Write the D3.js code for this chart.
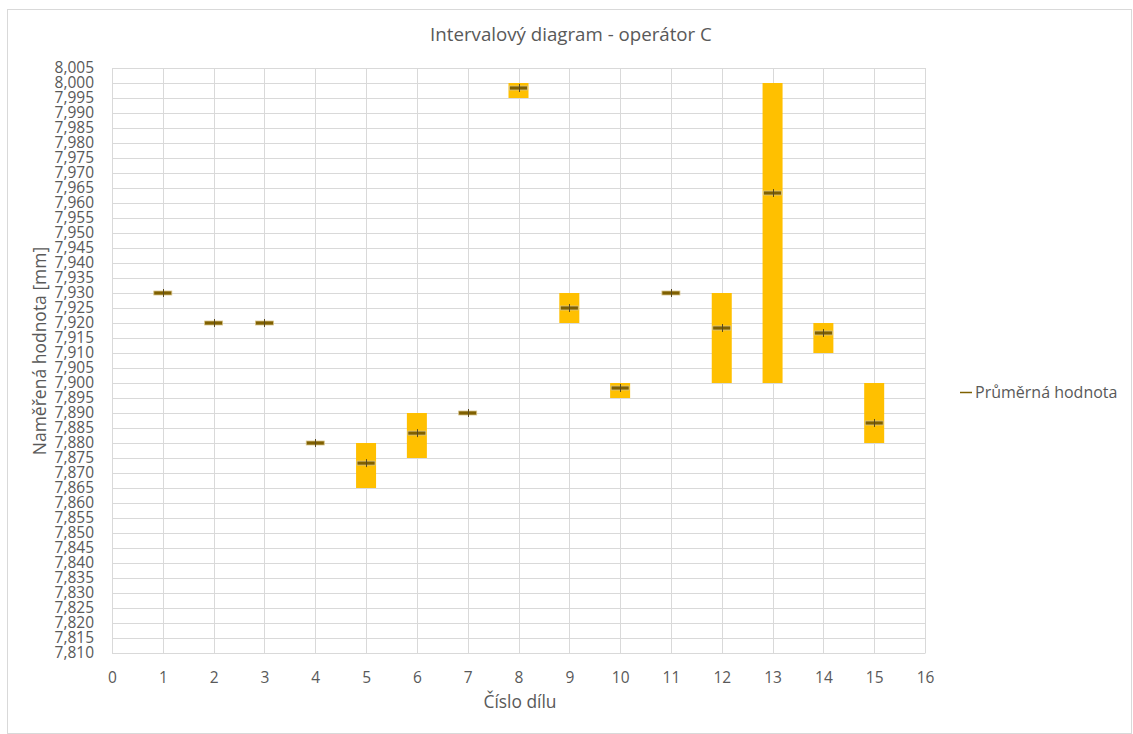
<!DOCTYPE html>
<html>
<head>
<meta charset="utf-8">
<script src="https://cdn.jsdelivr.net/npm/d3@7"></script>
<style>
  html, body { margin: 0; padding: 0; background: #fff; }
  svg { display: block; }
  text { font-family: "Open Sans", "Noto Sans", sans-serif; fill: #595959; }
</style>
</head>
<body>
<svg id="chart" width="1133" height="734"></svg>
<script>
// Measured parts (Číslo dílu) with min / max / mean of the readings
const parts  = [1, 2, 3, 4, 5, 6, 7, 8, 9, 10, 11, 12, 13, 14, 15];
const minVal = [7.930, 7.920, 7.920, 7.880, 7.865, 7.875, 7.890, 7.995, 7.920, 7.895, 7.930, 7.900, 7.900, 7.910, 7.880];
const maxVal = [7.930, 7.920, 7.920, 7.880, 7.880, 7.890, 7.890, 8.000, 7.930, 7.900, 7.930, 7.930, 8.000, 7.920, 7.900];
const meanVal = [7.930, 7.920, 7.920, 7.880, 7.8733, 7.8833, 7.890, 7.99833, 7.925, 7.89833, 7.930, 7.91833, 7.96333, 7.91667, 7.88667];

const xTicks = d3.range(0, 17);
const yTicks = d3.range(7810, 8006, 5).map(v => v / 1000);

const titleText = "Intervalový diagram - operátor C";
const xTitle = "Číslo dílu";
const yTitle = "Naměřená hodnota [mm]";
const legendText = "Průměrná hodnota";

const svg = d3.select("#chart");
const fmt = d3.formatLocale({ decimal: ",", thousands: " ", grouping: [3], currency: ["", ""] }).format(".3f");

const x = d3.scaleLinear().domain([0, 16]).range([112, 925]);
const y = d3.scaleLinear().domain([7.810, 8.005]).range([653, 68]);

// chart frame
svg.append("rect").attr("x", 7.5).attr("y", 9.5).attr("width", 1124).attr("height", 724)
  .attr("fill", "#fff").attr("stroke", "#d9d9d9");

// gridlines
const grid = svg.append("g");
grid.selectAll("line.h").data(yTicks).join("line")
  .attr("x1", x(0)).attr("x2", x(16))
  .attr("y1", d => Math.round(y(d)) + 0.5).attr("y2", d => Math.round(y(d)) + 0.5)
  .attr("stroke", "#d9d9d9").attr("stroke-width", 1);
grid.selectAll("line.v").data(xTicks).join("line")
  .attr("y1", y(8.005)).attr("y2", y(7.810))
  .attr("x1", d => Math.round(x(d)) + 0.5).attr("x2", d => Math.round(x(d)) + 0.5)
  .attr("stroke", "#d9d9d9").attr("stroke-width", 1);

// axes (labels only)
const yAxis = svg.append("g").attr("transform", `translate(${x(0)},0)`)
  .call(d3.axisLeft(y).tickValues(yTicks).tickFormat(fmt).tickSize(0).tickPadding(18));
yAxis.select(".domain").remove();
yAxis.selectAll("text").style("font-size", "15.5px").attr("fill", "#595959");

const xAxis = svg.append("g").attr("transform", `translate(0,${y(7.810)})`)
  .call(d3.axisBottom(x).tickValues(xTicks).tickFormat(d3.format("d")).tickSize(0).tickPadding(19));
xAxis.select(".domain").attr("stroke", "#d9d9d9");
xAxis.selectAll("text").style("font-size", "15.5px").attr("fill", "#595959");

// range boxes
const bw = 20;
svg.append("g").selectAll("rect").data(parts).join("rect")
  .attr("x", (d) => x(d) - bw / 2)
  .attr("width", bw)
  .attr("y", (d, i) => y(maxVal[i]))
  .attr("height", (d, i) => Math.max(0, y(minVal[i]) - y(maxVal[i])))
  .attr("fill", "#ffc000");

// mean markers
const mg = svg.append("g");
mg.selectAll("rect").data(parts).join("rect")
  .attr("x", d => x(d) - 9)
  .attr("width", 18)
  .attr("y", (d, i) => y(meanVal[i]) - 2)
  .attr("height", 4)
  .attr("fill", "#7f6000")
  .attr("stroke", "#d8c48a").attr("stroke-width", 0.8);
mg.selectAll("line").data(parts).join("line")
  .attr("x1", d => Math.round(x(d)) + 0.5).attr("x2", d => Math.round(x(d)) + 0.5)
  .attr("y1", (d, i) => y(meanVal[i]) - 4)
  .attr("y2", (d, i) => y(meanVal[i]) + 4)
  .attr("stroke", "#5a4a20").attr("stroke-width", 1);

// title
svg.append("text").attr("x", 571).attr("y", 41).attr("text-anchor", "middle")
  .style("font-size", "18.7px").text(titleText);

// axis titles
svg.append("text").attr("x", 520).attr("y", 708).attr("text-anchor", "middle")
  .style("font-size", "17.4px").text(xTitle);
svg.append("text").attr("transform", `translate(46,351) rotate(-90)`)
  .attr("text-anchor", "middle").style("font-size", "17.5px").text(yTitle);

// legend
const lg = svg.append("g").attr("transform", "translate(960,392)");
lg.append("line").attr("x1", 0).attr("x2", 12).attr("y1", 0.5).attr("y2", 0.5)
  .attr("stroke", "#7f6000").attr("stroke-width", 1.5);
lg.append("text").attr("x", 15).attr("y", 6).style("font-size", "16px").text(legendText);
</script>
</body>
</html>
